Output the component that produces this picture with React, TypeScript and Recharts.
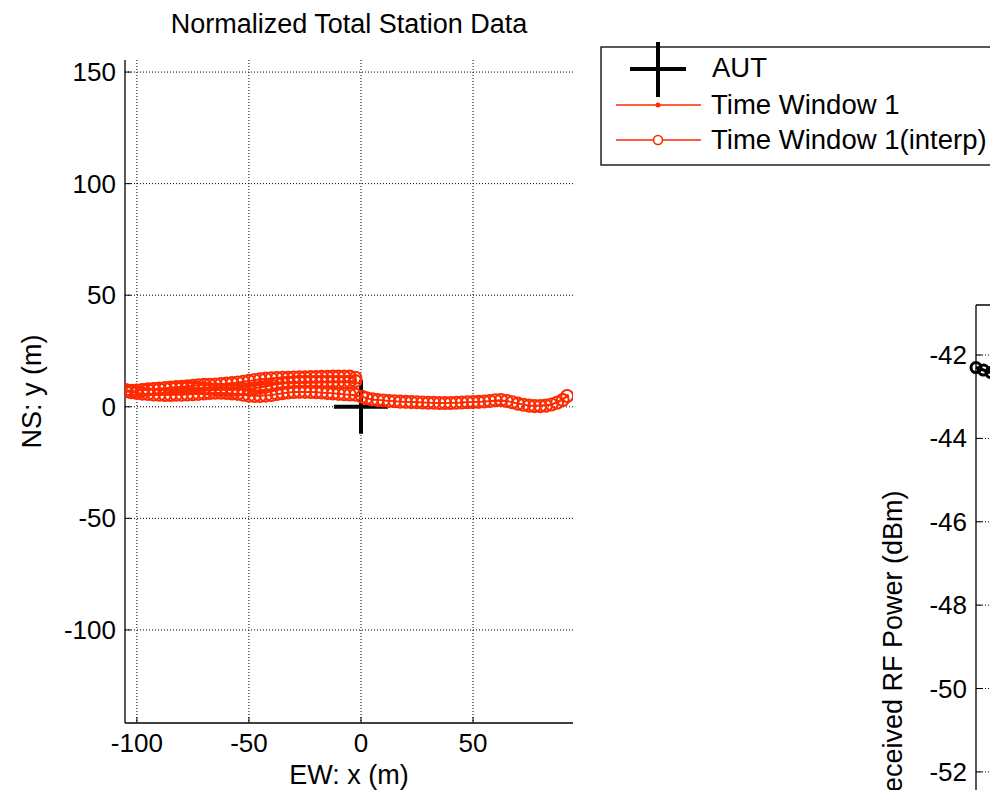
import React from 'react';
import { ScatterChart, Scatter, XAxis, YAxis, CartesianGrid, Legend, ReferenceLine } from 'recharts';

const FONT = "'Liberation Sans', Arial, Helvetica, sans-serif";
const RED = '#ff2a00';

const chartTitle = 'Normalized Total Station Data';
const xAxisTitle = 'EW: x (m)';
const yAxisTitle = 'NS: y (m)';
const rfAxisTitle = 'Received RF Power (dBm)';
const seriesNames = ['AUT', 'Time Window 1', 'Time Window 1(interp)'];

const xTicks = [-100, -50, 0, 50];
const yTicks = [-100, -50, 0, 50, 100, 150];
const xDomain: [number, number] = [-105.3, 94.6];
const yDomain: [number, number] = [-141.7, 155.4];

const autPosition: [number, number][] = [[0, 0]];

// interpolated track, walked from the east end back west (path order)
const rightTrack: [number, number][] = [
  [92, 4.8], [90, 3.0], [87.5, 1.8], [85, 1.0], [82.5, 0.5], [80, 0.3], [77.5, 0.3], [75, 0.5],
  [72.5, 0.9], [70, 1.4], [67.5, 2.0], [65, 2.6], [62.5, 3.0], [60, 2.9], [57.5, 2.6], [55, 2.4],
  [52.5, 2.2], [50, 2.1], [47.5, 2.0], [45, 1.9], [42.5, 1.8], [40, 1.7], [37.5, 1.7], [35, 1.7],
  [32.5, 1.8], [30, 1.8], [27.5, 1.9], [25, 2.0], [22.5, 2.1], [20, 2.2], [17.5, 2.3], [15, 2.5],
  [12.5, 2.6], [10, 2.8], [7.5, 3.0], [5, 3.3], [2.5, 3.8], [0.5, 4.5],
];
const lowerPass: [number, number][] = [
  [-2.5, 5.4], [-5, 5.5], [-7.5, 5.6], [-10, 5.8], [-12.5, 6.0], [-15, 6.2], [-17.5, 6.4], [-20, 6.5],
  [-22.5, 6.6], [-25, 6.7], [-27.5, 6.7], [-30, 6.6], [-32.5, 6.4], [-35, 6.1], [-37.5, 5.7], [-40, 5.3],
  [-42.5, 5.0], [-45, 4.8], [-47.5, 4.8], [-50, 5.0], [-52.5, 5.4], [-55, 5.8], [-57.5, 6.0], [-60, 6.2],
  [-62.5, 6.3], [-65, 6.3], [-67.5, 6.2], [-70, 6.0], [-72.5, 5.8], [-75, 5.6], [-77.5, 5.5], [-80, 5.4],
  [-82.5, 5.4], [-85, 5.3], [-87.5, 5.3], [-90, 5.4], [-92.5, 5.5], [-95, 5.7], [-97.5, 5.9], [-100, 6.2],
  [-102.5, 6.5], [-105, 7.0],
];
const middlePass: [number, number][] = [
  [-105, 7.5], [-102.5, 7.2], [-100, 7.3], [-97.5, 7.5], [-95, 7.8], [-92.5, 8.0], [-90, 8.2], [-87.5, 8.3],
  [-85, 8.4], [-82.5, 8.5], [-80, 8.5], [-77.5, 8.5], [-75, 8.4], [-72.5, 8.3], [-70, 8.2], [-67.5, 8.0],
  [-65, 7.8], [-62.5, 7.6], [-60, 7.5], [-57.5, 7.5], [-55, 7.6], [-52.5, 7.8], [-50, 8.0], [-47.5, 8.3],
  [-45, 8.6], [-42.5, 9.0], [-40, 9.6], [-37.5, 10.2], [-35, 10.6], [-32.5, 10.9], [-30, 11.1], [-27.5, 11.2],
  [-25, 11.2], [-22.5, 11.2], [-20, 11.2], [-17.5, 11.2], [-15, 11.2], [-12.5, 11.2], [-10, 11.2], [-7.5, 11.2],
  [-5, 11.3], [-2.5, 11.5],
];
const upperPass: [number, number][] = [
  [-2.5, 13.0], [-5, 13.5], [-7.5, 13.5], [-10, 13.5], [-12.5, 13.5], [-15, 13.4], [-17.5, 13.4], [-20, 13.3],
  [-22.5, 13.3], [-25, 13.2], [-27.5, 13.2], [-30, 13.1], [-32.5, 13.0], [-35, 13.0], [-37.5, 12.9], [-40, 12.8],
  [-42.5, 12.6], [-45, 12.3], [-47.5, 12.0], [-50, 11.6], [-52.5, 11.2], [-55, 10.9], [-57.5, 10.6], [-60, 10.4],
  [-62.5, 10.2], [-65, 10.0], [-67.5, 9.9], [-70, 9.8], [-72.5, 9.6], [-75, 9.4], [-77.5, 9.2], [-80, 9.0],
  [-82.5, 8.8], [-85, 8.6], [-87.5, 8.3], [-90, 8.0], [-92.5, 7.8], [-95, 7.6], [-97.5, 7.4], [-100, 7.2],
  [-102.5, 7.0], [-105, 7.0],
];
// raw (measured) samples
const rawSamples: [number, number][] = [
  [92, 4.8], [85, 1.0], [75, 0.5], [65, 2.6], [55, 2.4], [45, 1.9], [35, 1.7], [25, 2.0], [15, 2.5], [5, 3.3], [0.5, 4.5],
  [-10, 5.8], [-20, 6.5], [-30, 6.6], [-40, 5.3], [-50, 5.0], [-60, 6.2], [-70, 6.0], [-80, 5.4], [-90, 5.4], [-100, 6.2], [-105, 7.0],
  [-100, 7.3], [-90, 8.2], [-80, 8.5], [-70, 8.2], [-60, 7.5], [-50, 8.0], [-40, 9.6], [-30, 11.1], [-20, 11.2], [-10, 11.2], [-2.5, 11.5],
  [-5, 13.5], [-15, 13.4], [-25, 13.2], [-35, 13.0], [-45, 12.3], [-55, 10.9], [-65, 10.0], [-75, 9.4], [-85, 8.6], [-95, 7.6], [-105, 7.0],
];

const rfTicks = [-52, -50, -48, -46, -44, -42];
const rfDomain: [number, number] = [-57.4, -40.8];
const rfSamples: [number, number][] = [[0, -42.3], [2, -42.36], [4, -42.42], [6, -42.5]];

const toPoints = (arr: [number, number][]) => arr.map(([x, y]) => ({ x, y }));
const autData = toPoints(autPosition);
const interpData = toPoints([...rightTrack, ...lowerPass, ...middlePass, ...upperPass]);
const rawData = toPoints(rawSamples);
const rfData = toPoints(rfSamples);

const txt = { fontFamily: FONT, fill: '#000' };

const XTick = (props: any) => {
  const { x, y, payload } = props;
  return (
    <g>
      <line x1={x} x2={x} y1={y} y2={y - 6} stroke="#000" strokeWidth={1} />
      <text x={x} y={y + 20} textAnchor="middle" dominantBaseline="central" fontSize={26} {...txt}>
        {payload.value}
      </text>
    </g>
  );
};

const YTick = (props: any) => {
  const { x, y, payload } = props;
  return (
    <g>
      <line x1={x} x2={x + 6} y1={y} y2={y} stroke="#000" strokeWidth={1} />
      <text x={x - 9} y={y} textAnchor="end" dominantBaseline="central" fontSize={26} {...txt}>
        {payload.value}
      </text>
    </g>
  );
};

const AxisTitle = (props: any) => {
  const { viewBox, text, mode, dx, dy } = props;
  if (!viewBox) return null;
  if (mode === 'x') {
    const cx = viewBox.x + viewBox.width / 2;
    const cy = viewBox.y + dy;
    return (
      <text x={cx} y={cy} textAnchor="middle" dominantBaseline="central" fontSize={27} {...txt}>
        {text}
      </text>
    );
  }
  const cx = viewBox.x + dx;
  const cy = viewBox.y + viewBox.height / 2;
  return (
    <text x={cx} y={cy} transform={`rotate(-90 ${cx} ${cy})`} textAnchor="middle" dominantBaseline="central" fontSize={27} {...txt}>
      {text}
    </text>
  );
};

const PlusShape = (props: any) => {
  const { cx, cy } = props;
  const a = 27;
  return (
    <g>
      <line x1={cx - a} x2={cx + a} y1={cy} y2={cy} stroke="#000" strokeWidth={4} />
      <line x1={cx} x2={cx} y1={cy - a} y2={cy + a} stroke="#000" strokeWidth={4} />
    </g>
  );
};

const RingShape = (props: any) => (
  <circle cx={props.cx} cy={props.cy} r={6} fill="none" stroke={RED} strokeWidth={2.1} />
);
const DotShape = (props: any) => <circle cx={props.cx} cy={props.cy} r={2} fill={RED} />;
const BlackRing = (props: any) => (
  <circle cx={props.cx} cy={props.cy} r={5} fill="none" stroke="#000" strokeWidth={3} />
);

const LegendBox = () => (
  <svg width={400} height={130} style={{ display: 'block', overflow: 'visible' }}>
    <rect x={1} y={7} width={420} height={118} fill="#fff" stroke="#000" strokeWidth={1.3} />
    <line x1={30} x2={86} y1={29} y2={29} stroke="#000" strokeWidth={4} />
    <line x1={58} x2={58} y1={2} y2={57} stroke="#000" strokeWidth={4} />
    <text x={112} y={27} dominantBaseline="central" fontSize={27.5} {...txt}>{seriesNames[0]}</text>
    <line x1={16} x2={101} y1={65} y2={65} stroke={RED} strokeWidth={1.5} />
    <circle cx={58} cy={65} r={2.5} fill={RED} />
    <text x={111} y={64} dominantBaseline="central" fontSize={27.5} {...txt}>{seriesNames[1]}</text>
    <line x1={16} x2={101} y1={100} y2={100} stroke={RED} strokeWidth={1.5} />
    <circle cx={58} cy={100} r={4.5} fill="#fff" stroke={RED} strokeWidth={1.6} />
    <text x={111} y={99} dominantBaseline="central" fontSize={27.5} {...txt}>{seriesNames[2]}</text>
  </svg>
);

export default function App() {
  return (
    <div
      style={{
        position: 'absolute',
        left: 0,
        top: 0,
        width: 990,
        height: 790,
        overflow: 'hidden',
        background: '#fff',
        fontFamily: FONT,
      }}
    >
      <div style={{ position: 'absolute', left: 0, top: 0 }}>
        <ScatterChart width={990} height={790} margin={{ top: 60, right: 417, bottom: 0, left: 0 }}>
          <CartesianGrid
            stroke="#000"
            strokeDasharray="1 2"
            strokeWidth={1}
            horizontalValues={yTicks}
            verticalValues={xTicks}
          />
          <XAxis
            type="number"
            dataKey="x"
            domain={xDomain}
            ticks={xTicks}
            allowDataOverflow
            height={67}
            axisLine={{ stroke: '#000', strokeWidth: 1.3 }}
            tickLine={false}
            tickSize={0}
            tickMargin={0}
            tick={<XTick />}
            label={<AxisTitle text={xAxisTitle} mode="x" dy={52} />}
          />
          <YAxis
            type="number"
            dataKey="y"
            domain={yDomain}
            ticks={yTicks}
            allowDataOverflow
            width={125}
            axisLine={{ stroke: '#000', strokeWidth: 1.3 }}
            tickLine={false}
            tickSize={0}
            tickMargin={0}
            tick={<YTick />}
            label={<AxisTitle text={yAxisTitle} mode="y" dx={32} />}
          />
          <Legend
            layout="vertical"
            align="center"
            verticalAlign="middle"
            content={<LegendBox />}
            wrapperStyle={{ left: 600, top: 40, width: 400, height: 130 }}
          />
          <Scatter name={seriesNames[0]} data={autData} shape={<PlusShape />} isAnimationActive={false} />
          <Scatter
            name={seriesNames[1]}
            data={rawData}
            shape={<DotShape />}
            line={{ stroke: RED, strokeWidth: 1.5 }}
            lineType="joint"
            isAnimationActive={false}
          />
          <Scatter
            name={seriesNames[2]}
            data={interpData}
            shape={<RingShape />}
            line={{ stroke: RED, strokeWidth: 1.5 }}
            lineType="joint"
            isAnimationActive={false}
          />
        </ScatterChart>
      </div>
      <div
        style={{
          position: 'absolute',
          left: 125,
          width: 448,
          top: 9,
          textAlign: 'center',
          fontSize: 27,
          lineHeight: '31px',
          color: '#000',
        }}
      >
        {chartTitle}
      </div>
      <div style={{ position: 'absolute', left: 850, top: 0 }}>
        <ScatterChart width={500} height={1050} margin={{ top: 305, right: 0, bottom: 53, left: 0 }}>
          <CartesianGrid stroke="#000" strokeDasharray="1 2" vertical={false} horizontalValues={rfTicks} />
          <XAxis type="number" dataKey="x" domain={[0, 100]} hide />
          <YAxis
            type="number"
            dataKey="y"
            domain={rfDomain}
            ticks={rfTicks}
            allowDataOverflow
            width={126}
            axisLine={{ stroke: '#000', strokeWidth: 1.3 }}
            tickLine={false}
            tickSize={0}
            tickMargin={0}
            tick={<YTick />}
            label={<AxisTitle text={rfAxisTitle} mode="y" dx={43} />}
          />
          <ReferenceLine y={rfDomain[1]} stroke="#000" strokeWidth={1.3} />
          <Scatter
            name="RF"
            data={rfData}
            shape={<BlackRing />}
            line={{ stroke: '#000', strokeWidth: 3 }}
            lineType="joint"
            isAnimationActive={false}
          />
        </ScatterChart>
      </div>
    </div>
  );
}
